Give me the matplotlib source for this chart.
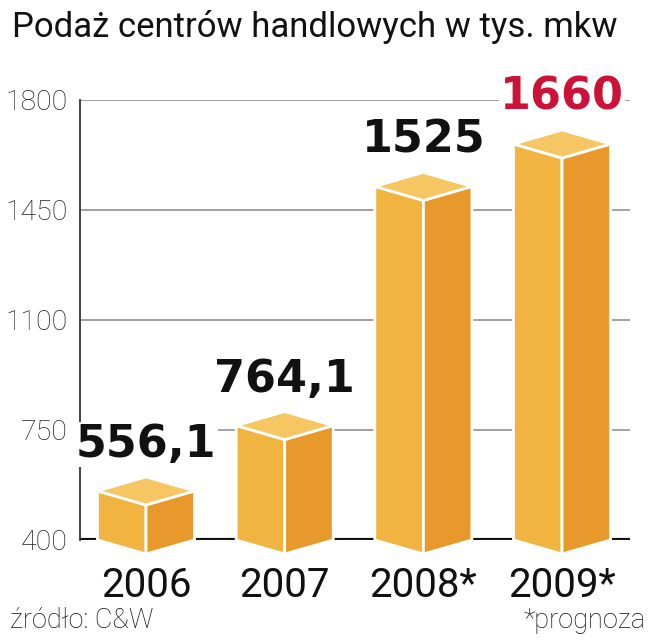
import matplotlib
matplotlib.use("agg")
import matplotlib.pyplot as plt
from matplotlib.patches import Polygon

years = ["2006", "2007", "2008*", "2009*"]
values = [556.1, 764.1, 1525, 1660]
value_labels = ["556,1", "764,1", "1525", "1660"]
label_colors = ["#111111", "#111111", "#111111", "#cc1236"]
y_ticks = [400, 750, 1100, 1450, 1800]

BASE = 400
FRONT = "#f2b441"
SIDE = "#e8992b"
TOP = "#f6c662"

W, H = 653, 640
fig = plt.figure(figsize=(W / 100, H / 100), dpi=100)
ax = fig.add_axes([80 / W, (H - 540) / H, 550 / W, 440 / H])
ax.set_xlim(-0.476, 3.49)
ax.set_ylim(BASE, 1800)

# depth of the fake 3d top, 14 px in data units
depth = 14 * (1800 - BASE) / 440
half = 0.35

for y in y_ticks[1:]:
    ax.axhline(y, color="#9a9a9a", lw=1.3, zorder=1)
ax.axhline(BASE, color="#111111", lw=3, zorder=1)

for i, v in enumerate(values):
    c = i
    left = [(c - half, BASE), (c, BASE - depth), (c, v - depth), (c - half, v)]
    right = [(c, BASE - depth), (c + half, BASE), (c + half, v), (c, v - depth)]
    top = [(c - half, v), (c, v - depth), (c + half, v), (c, v + depth)]
    for pts, col in ((left, FRONT), (right, SIDE), (top, TOP)):
        ax.add_patch(Polygon(pts, closed=True, facecolor=col, edgecolor="white",
                             lw=2, joinstyle="round", clip_on=False, zorder=3))
    ax.annotate(value_labels[i], (c, v), xytext=(0, 34), textcoords="offset pixels",
                ha="center", va="baseline", fontsize=32, fontweight="bold",
                family="DejaVu Sans", color=label_colors[i], zorder=4,
                bbox=dict(facecolor="white", edgecolor="none", pad=1))
    ax.annotate(years[i], (c, BASE), xytext=(0, -57), textcoords="offset pixels",
                ha="center", va="baseline", fontsize=29, family="Roboto",
                color="#111111", annotation_clip=False)

for s in ("top", "right", "bottom"):
    ax.spines[s].set_visible(False)
ax.spines["left"].set_color("#333333")
ax.spines["left"].set_linewidth(1.3)
ax.set_xticks([])
ax.set_yticks(y_ticks)
ax.tick_params(axis="y", length=0, pad=9, labelsize=20.5, labelcolor="#222222")
for t in ax.get_yticklabels():
    t.set_family("Roboto")
    t.set_fontweight("light")

fig.text(12 / W, 1 - 27 / H, "Podaż centrów handlowych w tys. mkw", fontsize=25,
         family="Roboto", color="#111111", va="center", ha="left")
fig.text(10 / W, 1 - 621 / H, "źródło: C&W", fontsize=19.5, family="Roboto",
         fontweight="light", color="#111111", va="center", ha="left")
fig.text(646 / W, 1 - 621 / H, "*prognoza", fontsize=19.5, family="Roboto",
         fontweight="light", color="#111111", va="center", ha="right")

fig.savefig("out.png", dpi=100, facecolor="white")
